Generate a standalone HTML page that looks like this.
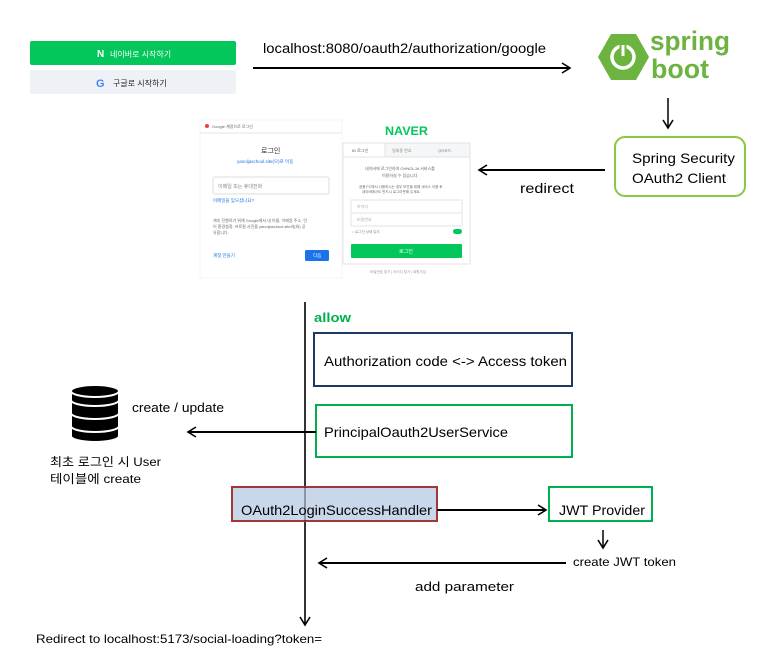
<!DOCTYPE html>
<html><head><meta charset="utf-8"><style>
html,body{margin:0;padding:0;background:#fff;width:776px;height:656px;overflow:hidden}
svg{display:block}
text{font-family:"Liberation Sans","Noto Sans CJK KR",sans-serif}
</style></head><body>
<svg width="776" height="656" viewBox="0 0 776 656" xmlns="http://www.w3.org/2000/svg">
<defs>
<marker id="ah" markerWidth="12" markerHeight="12" refX="10" refY="6" orient="auto" markerUnits="userSpaceOnUse">
<path d="M2,1 L10,6 L2,11" fill="none" stroke="#000" stroke-width="1.6"/></marker>
</defs>
<rect x="30" y="41" width="206" height="24" rx="2" fill="#03c75a"/>
<text x="97" y="57" font-size="10" font-weight="bold" fill="#fff">N</text>
<text x="110" y="57" font-size="8" fill="#fff">네이버로 시작하기</text>
<rect x="30" y="70" width="206" height="24" rx="2" fill="#eef1f5"/>
<text x="96" y="87" font-size="11" font-weight="bold" fill="#4285f4">G</text>
<text x="113" y="86" font-size="8" fill="#222">구글로 시작하기</text>
<line x1="253" y1="68" x2="570" y2="68" stroke="#000" stroke-width="2" marker-end="url(#ah)"/>
<text x="263" y="53" font-size="14" textLength="283" lengthAdjust="spacingAndGlyphs">localhost:8080/oauth2/authorization/google</text>
<polygon points="611,34 636,34 649,57 636,80 611,80 598,57" fill="#6db33f"/>
<circle cx="623" cy="57" r="11" fill="none" stroke="#fff" stroke-width="3.5"/>
<line x1="623" y1="44" x2="623" y2="56" stroke="#6db33f" stroke-width="7"/>
<line x1="623" y1="45" x2="623" y2="56" stroke="#fff" stroke-width="3"/>
<text x="650" y="50" font-size="27" font-weight="bold" fill="#6db33f" textLength="80" lengthAdjust="spacingAndGlyphs">spring</text>
<text x="651" y="78" font-size="27" font-weight="bold" fill="#6db33f" textLength="58" lengthAdjust="spacingAndGlyphs">boot</text>
<line x1="668" y1="98" x2="668" y2="128" stroke="#000" stroke-width="1.5" marker-end="url(#ah)"/>
<rect x="615" y="137" width="130" height="59" rx="10" fill="#fff" stroke="#8dc63f" stroke-width="2"/>
<text x="632" y="163" font-size="14" textLength="103" lengthAdjust="spacingAndGlyphs">Spring Security</text>
<text x="632" y="183" font-size="14" textLength="94" lengthAdjust="spacingAndGlyphs">OAuth2 Client</text>
<line x1="605" y1="170" x2="479" y2="170" stroke="#000" stroke-width="2" marker-end="url(#ah)"/>
<text x="520" y="193" font-size="14" textLength="54" lengthAdjust="spacingAndGlyphs">redirect</text>
<rect x="200" y="120" width="142" height="158" fill="#fff" stroke="#eee" stroke-width="0.5"/>
<line x1="200" y1="133" x2="342" y2="133" stroke="#e5e5e5"/>
<circle cx="207" cy="126" r="2" fill="#ea4335"/>
<text x="212" y="128" font-size="4" fill="#666">Google 계정으로 로그인</text>
<text x="261" y="153" font-size="7" fill="#333">로그인</text>
<text x="237" y="163" font-size="4.5" fill="#1a73e8">yanoljaschool.site(으)로 이동</text>
<rect x="213" y="177" width="116" height="17" rx="2" fill="#fff" stroke="#ddd"/>
<text x="218" y="188" font-size="5" fill="#888">이메일 또는 휴대전화</text>
<text x="213" y="202" font-size="4.5" fill="#1a73e8">이메일을 잊으셨나요?</text>
<text x="213" y="222" font-size="4" fill="#666">계속 진행하기 위해 Google에서 내 이름, 이메일 주소, 언</text>
<text x="213" y="228" font-size="4" fill="#666">어 환경설정, 프로필 사진을 yanoljaschool.site과(와) 공</text>
<text x="213" y="234" font-size="4" fill="#666">유합니다.</text>
<text x="213" y="257" font-size="4.5" fill="#1a73e8">계정 만들기</text>
<rect x="305" y="250" width="24" height="11" rx="1.5" fill="#1a73e8"/>
<text x="313" y="257" font-size="4.5" fill="#fff">다음</text>
<text x="385" y="135" font-size="12" font-weight="bold" fill="#03c75a" textLength="43" lengthAdjust="spacingAndGlyphs">NAVER</text>
<rect x="343" y="143" width="127" height="121" fill="#fff" stroke="#e3e3e3"/>
<rect x="343" y="143" width="127" height="14" fill="#f5f6f7" stroke="#e3e3e3"/>
<rect x="343" y="143" width="42" height="14" fill="#fff" stroke="#e3e3e3"/>
<text x="352" y="152" font-size="4" fill="#555">ID 로그인</text>
<text x="392" y="152" font-size="4" fill="#888">일회용 번호</text>
<text x="438" y="152" font-size="4" fill="#888">QR코드</text>
<text x="365" y="170" font-size="4" fill="#666">네이버에 로그인하여 OHNOLJA 서비스를</text>
<text x="382" y="177" font-size="4" fill="#666">이용하실 수 있습니다.</text>
<text x="359" y="188" font-size="3.5" fill="#666">공용 PC에서 사용하시는 경우 보안을 위해 서비스 이용 후</text>
<text x="362" y="193" font-size="3.5" fill="#666">네이버에서도 반드시 로그아웃해 주세요.</text>
<rect x="351" y="200" width="111" height="13" fill="#fff" stroke="#e3e3e3"/>
<rect x="351" y="213" width="111" height="13" fill="#fff" stroke="#e3e3e3"/>
<text x="357" y="208" font-size="4" fill="#aaa">아이디</text>
<text x="357" y="221" font-size="4" fill="#aaa">비밀번호</text>
<text x="352" y="233" font-size="3.5" fill="#888">○ 로그인 상태 유지</text>
<rect x="453" y="229" width="9" height="5" rx="2.5" fill="#03c75a"/>
<rect x="351" y="244" width="111" height="14" rx="1" fill="#03c75a"/>
<text x="399" y="253" font-size="5" fill="#fff">로그인</text>
<text x="370" y="273" font-size="3.5" fill="#999">비밀번호 찾기 | 아이디 찾기 | 회원가입</text>
<line x1="305" y1="302" x2="305" y2="625" stroke="#000" stroke-width="1.6" marker-end="url(#ah)"/>
<text x="314" y="322" font-size="13" font-weight="bold" fill="#00b050" textLength="37" lengthAdjust="spacingAndGlyphs">allow</text>
<rect x="314" y="333" width="258" height="53" fill="#fff" stroke="#1f3864" stroke-width="2"/>
<text x="324" y="366" font-size="14" textLength="243" lengthAdjust="spacingAndGlyphs">Authorization code &lt;-&gt; Access token</text>
<rect x="316" y="405" width="256" height="52" fill="#fff" stroke="#00b050" stroke-width="2"/>
<text x="324" y="437" font-size="14" textLength="184" lengthAdjust="spacingAndGlyphs">PrincipalOauth2UserService</text>
<line x1="316" y1="432" x2="188" y2="432" stroke="#000" stroke-width="2" marker-end="url(#ah)"/>
<text x="132" y="412" font-size="13" textLength="92" lengthAdjust="spacingAndGlyphs">create / update</text>
<g fill="#000" stroke="#fff" stroke-width="2">
<path d="M71,427 v9 a24,6 0 0 0 48,0 v-9 z"/>
<path d="M71,413 v13 a24,6 0 0 0 48,0 v-13 z"/>
<path d="M71,400 v13 a24,6 0 0 0 48,0 v-13 z"/>
<path d="M71,391 v9 a24,6 0 0 0 48,0 v-9 z"/>
<ellipse cx="95" cy="391" rx="24" ry="6"/>
</g>
<text x="50" y="466" font-size="12" textLength="111" lengthAdjust="spacingAndGlyphs">최초 로그인 시 User</text>
<text x="50" y="483" font-size="12" textLength="91" lengthAdjust="spacingAndGlyphs">테이블에 create</text>
<rect x="232" y="487" width="205" height="34" fill="#c9d7ea" stroke="#a0383a" stroke-width="2"/>
<line x1="305" y1="487" x2="305" y2="521" stroke="#000" stroke-width="1.2" opacity="0.5"/>
<text x="241" y="515" font-size="14" textLength="191" lengthAdjust="spacingAndGlyphs">OAuth2LoginSuccessHandler</text>
<line x1="437" y1="510" x2="546" y2="510" stroke="#000" stroke-width="2" marker-end="url(#ah)"/>
<rect x="549" y="487" width="103" height="34" fill="#fff" stroke="#00b050" stroke-width="2"/>
<text x="559" y="515" font-size="14" textLength="86" lengthAdjust="spacingAndGlyphs">JWT Provider</text>
<line x1="603" y1="530" x2="603" y2="548" stroke="#000" stroke-width="1.5" marker-end="url(#ah)"/>
<text x="573" y="566" font-size="12" textLength="103" lengthAdjust="spacingAndGlyphs">create JWT token</text>
<line x1="566" y1="563" x2="319" y2="563" stroke="#000" stroke-width="2" marker-end="url(#ah)"/>
<text x="415" y="591" font-size="13" textLength="99" lengthAdjust="spacingAndGlyphs">add parameter</text>
<text x="36" y="643" font-size="12" textLength="286" lengthAdjust="spacingAndGlyphs">Redirect to localhost:5173/social-loading?token=</text>
</svg>
</body></html>
